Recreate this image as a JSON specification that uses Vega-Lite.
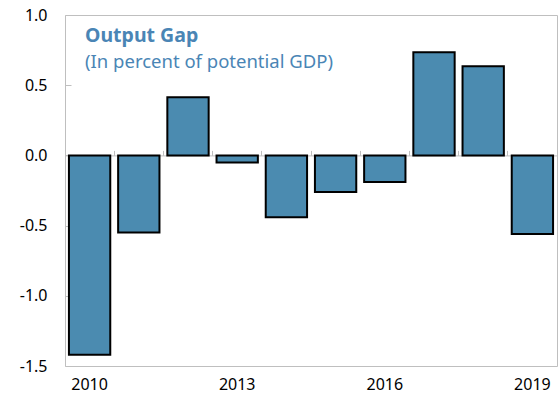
{
  "$schema": "https://vega.github.io/schema/vega-lite/v6.json",
  "width": 492,
  "height": 351,
  "autosize": "none",
  "padding": {"left": 65, "top": 15, "right": 1, "bottom": 38},
  "background": "white",
  "config": {
    "view": {"stroke": "#bfbfbf", "strokeWidth": 1},
    "font": "Noto Sans"
  },
  "title": {
    "text": "Output Gap",
    "subtitle": "(In percent of potential GDP)",
    "anchor": "start",
    "frame": "group",
    "orient": "top",
    "offset": -65,
    "dx": 20,
    "font": "Noto Sans",
    "fontSize": 19.5,
    "fontWeight": "bold",
    "color": "#4a85b5",
    "subtitleFont": "Noto Sans",
    "subtitleFontSize": 18.5,
    "subtitleColor": "#4a85b5",
    "subtitlePadding": 6
  },
  "data": {
    "values": [
      {"year": "2010", "gap": -1.42},
      {"year": "2011", "gap": -0.55},
      {"year": "2012", "gap": 0.415},
      {"year": "2013", "gap": -0.05},
      {"year": "2014", "gap": -0.44},
      {"year": "2015", "gap": -0.26},
      {"year": "2016", "gap": -0.19},
      {"year": "2017", "gap": 0.735},
      {"year": "2018", "gap": 0.635},
      {"year": "2019", "gap": -0.56}
    ]
  },
  "resolve": {"axis": {"x": "independent"}},
  "layer": [
    {
      "mark": {"type": "point", "opacity": 0},
      "encoding": {
        "x": {
          "field": "year",
          "type": "ordinal",
          "scale": {"paddingInner": 0, "paddingOuter": 0},
          "axis": {
            "orient": "top",
            "offset": -140.4,
            "title": null,
            "labels": false,
            "bandPosition": 0,
            "tickSize": 5,
            "tickColor": "#bfbfbf",
            "domainColor": "#bfbfbf",
            "tickWidth": 1,
            "domainWidth": 1
          }
        },
        "y": {"datum": 0, "type": "quantitative"}
      }
    },
    {
      "mark": {"type": "bar", "width": {"band": 0.84}, "fill": "#4b8bb0", "stroke": "#000000", "strokeWidth": 2},
      "encoding": {
        "x": {
          "field": "year",
          "type": "ordinal",
          "scale": {"paddingInner": 0, "paddingOuter": 0},
          "axis": {
            "orient": "bottom",
            "title": null,
            "values": ["2010", "2013", "2016", "2019"],
            "ticks": false,
            "domain": false,
            "labelAngle": 0,
            "labelPadding": 10,
            "labelFontSize": 16,
            "labelColor": "#000000",
            "labelFont": "Noto Sans"
          }
        },
        "y": {
          "field": "gap",
          "type": "quantitative",
          "scale": {"domain": [-1.5, 1.0], "nice": false, "zero": false},
          "axis": {
            "title": null,
            "values": [-1.5, -1.0, -0.5, 0, 0.5, 1.0],
            "labelExpr": "datum.value < 0 ? '-' + format(-datum.value, '.1f') : format(datum.value, '.1f')",
            "domain": false,
            "grid": false,
            "tickSize": -6,
            "tickColor": "#bfbfbf",
            "labelPadding": 24,
            "labelFontSize": 16,
            "labelColor": "#000000",
            "labelFont": "Noto Sans"
          }
        }
      }
    }
  ]
}
